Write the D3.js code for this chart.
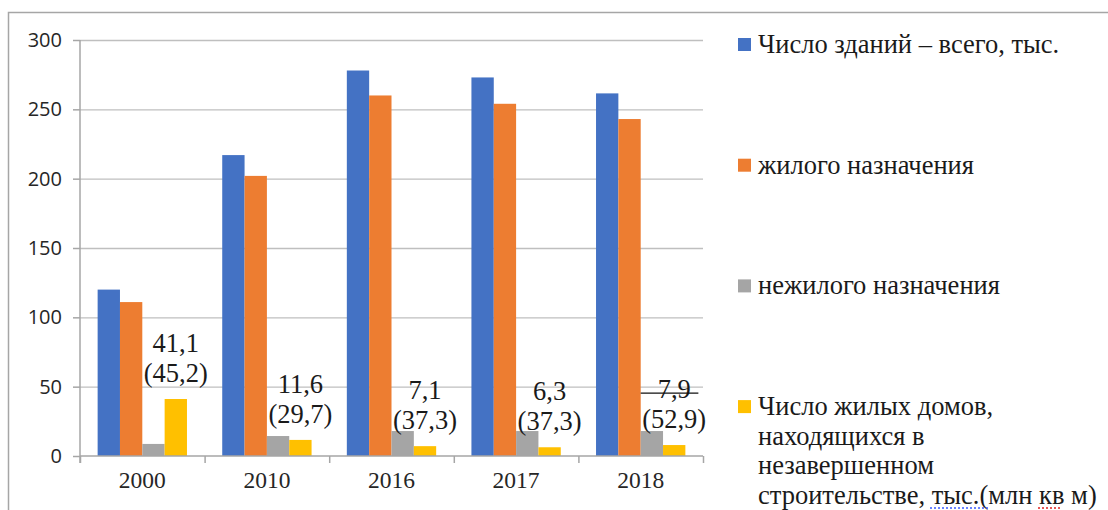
<!DOCTYPE html>
<html>
<head>
<meta charset="utf-8">
<script src="https://cdn.jsdelivr.net/npm/d3@7"></script>
<style>
  body { margin: 0; background: #fff; }
  svg { display: block; }
</style>
</head>
<body>
<div id="chart"></div>
<script>
// data
var years = ["2000", "2010", "2016", "2017", "2018"];
var seriesNames = [
  "Число зданий – всего, тыс.",
  "жилого назначения",
  "нежилого назначения",
  "Число жилых домов, находящихся в незавершенном строительстве, тыс.(млн кв м)"
];
var totalBuildings = [120, 217, 278, 273, 261.5];
var residential = [111, 202, 260, 254, 243];
var nonResidential = [8.7, 14.4, 18, 18, 18];
var unfinishedHouses = [41.1, 11.6, 7.1, 6.3, 7.9];
var unfinishedArea = [45.2, 29.7, 37.3, 37.3, 52.9];
var yTicks = [0, 50, 100, 150, 200, 250, 300];
var colors = ["#4472C4", "#ED7D31", "#A5A5A5", "#FFC000"];

// legend text split the same way as in the picture
var legendLines = [
  ["Число зданий – всего, тыс."],
  ["жилого назначения"],
  ["нежилого назначения"],
  ["Число жилых домов,", "находящихся в", "незавершенном", "строительстве, тыс.(млн кв м)"]
];

var allSeries = [totalBuildings, residential, nonResidential, unfinishedHouses];

var W = 1108, H = 510;
var margin = { top: 40, left: 80 },
  width = 623,
  height = 416;
var serif = "'Liberation Serif', 'DejaVu Serif', serif";

var svg = d3.select("#chart")
  .append("svg")
  .attr("width", W)
  .attr("height", H);

// outer frame (left and top edges are visible)
svg.append("path")
  .attr("d", "M8.5," + H + "V12.5H" + W)
  .attr("fill", "none")
  .attr("stroke", "#a6a6a6")
  .attr("stroke-width", 1.5);

var g = svg.append("g")
  .attr("transform", "translate(" + margin.left + "," + margin.top + ")");

var x = d3.scaleBand()
  .domain(years)
  .range([0, width])
  .paddingInner(0.283)
  .paddingOuter(0.1415);

var xSub = d3.scaleBand()
  .domain(d3.range(allSeries.length))
  .range([0, x.bandwidth()]);

var y = d3.scaleLinear()
  .domain([0, 300])
  .range([height, 0]);

// gridlines
g.append("g")
  .call(d3.axisLeft(y).tickValues(yTicks.slice(1)).tickSize(-width).tickFormat(""))
  .call(function (s) {
    s.select(".domain").remove();
    s.selectAll("line").attr("stroke", "#bfbfbf").attr("stroke-width", 1.3);
  });

// bars
var groups = g.selectAll(".year")
  .data(years)
  .enter()
  .append("g")
  .attr("transform", function (d) { return "translate(" + x(d) + ",0)"; });

groups.selectAll("rect")
  .data(function (d, i) {
    return allSeries.map(function (s, k) { return { k: k, v: s[i] }; });
  })
  .enter()
  .append("rect")
  .attr("x", function (d) { return xSub(d.k); })
  .attr("y", function (d) { return y(d.v); })
  .attr("width", xSub.bandwidth())
  .attr("height", function (d) { return height - y(d.v); })
  .attr("fill", function (d) { return colors[d.k]; });

// y axis
g.append("g")
  .call(d3.axisLeft(y).tickValues(yTicks).tickSize(7).tickPadding(11))
  .call(function (s) {
    s.select(".domain").attr("stroke", "#a6a6a6").attr("stroke-width", 1.5)
      .attr("d", "M0,0V" + (height + 7));
    s.selectAll("line").attr("stroke", "#a6a6a6").attr("stroke-width", 1.5);
    s.selectAll("text")
      .style("font-family", "'Open Sans', sans-serif")
      .style("font-size", "20px")
      .attr("fill", "#262626");
  });

// x axis: tick marks on category boundaries
var xEdge = d3.scaleLinear().domain([0, years.length]).range([0, width]);
g.append("g")
  .attr("transform", "translate(0," + height + ")")
  .call(d3.axisBottom(xEdge).ticks(years.length).tickSize(7).tickFormat(""))
  .call(function (s) {
    s.select(".domain").attr("stroke", "#a6a6a6").attr("stroke-width", 1.5).attr("d", "M0,0H" + width);
    s.selectAll("line").attr("stroke", "#a6a6a6").attr("stroke-width", 1.5);
  });

// x labels
g.append("g")
  .attr("transform", "translate(0," + height + ")")
  .call(d3.axisBottom(x).tickSize(0).tickPadding(15))
  .call(function (s) {
    s.select(".domain").remove();
    s.selectAll("text")
      .style("font-family", serif)
      .style("font-size", "23.5px")
      .attr("fill", "#262626");
  });

// data labels over yellow bars
var fmt = function (v) { return d3.format(".1f")(v).replace(".", ","); };
var lbl = g.selectAll(".dlabel")
  .data(years)
  .enter()
  .append("text")
  .attr("class", "dlabel")
  .attr("text-anchor", "middle")
  .style("font-family", serif)
  .style("font-size", "26.5px")
  .attr("fill", "#1a1a1a");

lbl.append("tspan")
  .attr("x", function (d) { return x(d) + xSub(3) + xSub.bandwidth() / 2; })
  .attr("y", function (d, i) { return y(unfinishedHouses[i]) - 47; })
  .text(function (d, i) { return fmt(unfinishedHouses[i]); });

lbl.append("tspan")
  .attr("x", function (d) { return x(d) + xSub(3) + xSub.bandwidth() / 2; })
  .attr("y", function (d, i) { return y(unfinishedHouses[i]) - 17; })
  .text(function (d, i) { return "(" + fmt(unfinishedArea[i]) + ")"; });

// stray stroke through the 2018 label
var last = years[years.length - 1];
g.append("line")
  .attr("x1", x(last) + xSub(2))
  .attr("x2", x(last) + x.bandwidth() + 13)
  .attr("y1", y(unfinishedHouses[4]) - 52)
  .attr("y2", y(unfinishedHouses[4]) - 52)
  .attr("stroke", "#111")
  .attr("stroke-width", 1.3);

// legend
var legend = svg.append("g").attr("transform", "translate(738,0)");
var item = legend.selectAll(".item")
  .data(legendLines)
  .enter()
  .append("g")
  .attr("transform", function (d, i) { return "translate(0," + (53 + i * 120.7) + ")"; });

item.append("rect")
  .attr("x", 0)
  .attr("y", -15)
  .attr("width", 13)
  .attr("height", 13)
  .attr("fill", function (d, i) { return colors[i]; });

item.append("text")
  .style("font-family", serif)
  .style("font-size", "26.5px")
  .attr("fill", "#1a1a1a")
  .selectAll("tspan")
  .data(function (d) { return d; })
  .enter()
  .append("tspan")
  .attr("x", 20)
  .attr("y", function (d, j) { return j * 29.5; })
  .text(function (d) { return d; });

// spell-check marks under the last legend line
legend.append("line")
  .attr("x1", 192).attr("x2", 252).attr("y1", 508).attr("y2", 508)
  .attr("stroke", "#3b5bff").attr("stroke-width", 1.5).attr("stroke-dasharray", "2,2");
legend.append("line")
  .attr("x1", 300).attr("x2", 323).attr("y1", 508).attr("y2", 508)
  .attr("stroke", "#e02020").attr("stroke-width", 1.5).attr("stroke-dasharray", "2,2");
</script>
</body>
</html>
